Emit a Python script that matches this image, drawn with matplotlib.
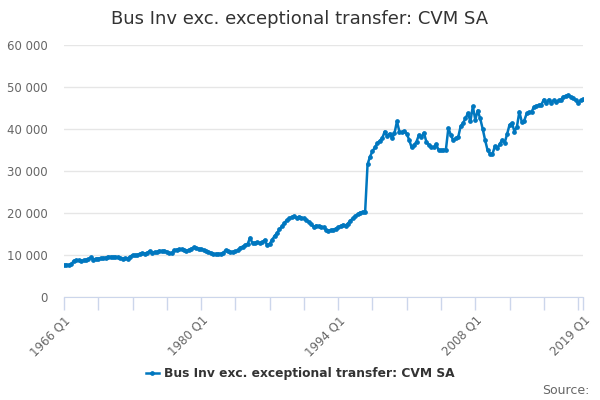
import matplotlib
matplotlib.use('Agg')
import matplotlib.pyplot as plt
import matplotlib.ticker as ticker

# Quarterly values, 1966 Q1 .. 2019 Q1 (one row per year)
values = [
    7600, 7700, 7650, 7800,        # 1966
    8600, 8800, 8700, 8600,        # 1967
    8700, 8900, 9000, 9450,        # 1968
    8900, 9100, 9150, 9200,        # 1969
    9250, 9400, 9600, 9550,        # 1970
    9500, 9550, 9450, 9300,        # 1971
    9150, 9200, 9150, 9600,        # 1972
    10000, 9900, 10050, 10300,     # 1973
    10400, 10350, 10500, 10950,    # 1974
    10400, 10700, 10650, 11000,    # 1975
    10900, 11000, 10800, 10400,    # 1976
    10500, 11100, 11300, 11350,    # 1977
    11400, 11300, 11000, 11200,    # 1978
    11500, 11800, 11700, 11500,    # 1979
    11400, 11200, 11000, 10800,    # 1980
    10500, 10250, 10250, 10300,    # 1981
    10300, 10500, 11100, 10900,    # 1982
    10700, 10800, 10850, 11100,    # 1983
    11750, 12000, 12400, 12600,    # 1984
    14100, 12800, 12900, 13000,    # 1985
    12800, 13000, 13600, 12300,    # 1986
    12600, 13600, 14500, 15200,    # 1987
    16100, 16800, 17600, 18300,    # 1988
    18700, 19000, 19300, 18800,    # 1989
    19100, 18900, 18700, 18300,    # 1990
    17900, 17300, 16700, 17000,    # 1991
    16900, 16700, 16600, 16000,    # 1992
    15800, 15900, 16000, 16300,    # 1993
    16600, 16900, 17200, 17000,    # 1994
    17500, 18200, 18700, 19300,    # 1995
    19700, 20100, 20300, 20200,    # 1996
    31600, 33400, 34700, 35600,    # 1997
    36600, 37200, 37800, 39400,    # 1998
    38300, 38900, 37800, 39000,    # 1999
    41800, 39400, 39200, 39500,    # 2000
    38900, 37400, 35600, 36200,    # 2001
    37000, 38600, 38000, 39100,    # 2002
    37000, 36200, 35800, 35600,    # 2003
    36400, 35000, 34900, 35000,    # 2004
    35100, 40200, 38600, 37300,    # 2005
    37800, 38000, 40600, 41400,    # 2006
    42500, 43800, 41800, 45400,    # 2007
    42200, 44400, 42500, 40100,    # 2008
    37400, 35000, 34100, 34000,    # 2009
    35900, 35400, 36400, 37400,    # 2010
    36700, 38800, 41000, 41400,    # 2011
    39400, 40500, 44100, 41700,    # 2012
    42000, 43700, 44000, 44100,    # 2013
    45300, 45500, 45700, 45800,    # 2014
    47000, 46100, 47000, 46300,    # 2015
    46800, 46500, 46800, 47000,    # 2016
    47700, 47900, 48100, 47700,    # 2017
    47300, 46800, 46300, 46800,    # 2018
    47050,                         # 2019
]
quarters = ['%d Q%d' % (1966 + i // 4, i % 4 + 1) for i in range(len(values))]
label_quarters = ['1966 Q1', '1980 Q1', '1994 Q1', '2008 Q1', '2019 Q1']

title = 'Bus Inv exc. exceptional transfer: CVM SA'
line_col = '#0077bf'

fig = plt.figure(figsize=(6, 4), dpi=100)
ax = fig.add_axes([64 / 600, 1 - 297 / 400, 519 / 600, 252 / 400])

x = list(range(len(values)))
ax.plot(x, values, color=line_col, lw=1.8, marker='o', ms=2.4,
        label=title, zorder=3)

ax.set_xlim(0, len(values) - 1)
ax.set_ylim(0, 60000)
ax.yaxis.set_major_locator(ticker.MultipleLocator(10000))
ax.yaxis.set_major_formatter(ticker.FuncFormatter(
    lambda v, p: '{:,.0f}'.format(v).replace(',', ' ')))
ax.grid(axis='y', color='#e6e6e6', lw=1)
ax.set_axisbelow(True)

# small tick every 14 quarters, labels only on a few
tick_pos = list(range(0, len(values), 14)) + [len(values) - 1]
ax.set_xticks(tick_pos)
ax.set_xticklabels([quarters[i] if quarters[i] in label_quarters else ''
                    for i in tick_pos],
                   rotation=45, ha='right', rotation_mode='anchor')
ax.tick_params(axis='x', length=9, width=1, color='#ccd6eb',
               labelsize=8.5, labelcolor='#666666', pad=3)
ax.tick_params(axis='y', length=0, labelsize=8.5, labelcolor='#666666', pad=12)

for s in ['top', 'right', 'left']:
    ax.spines[s].set_visible(False)
ax.spines['bottom'].set_color('#ccd6eb')

fig.text(0.5, 0.953, title, ha='center', va='center',
         fontsize=13, color='#333333')
leg = fig.legend(loc='center', bbox_to_anchor=(0.5, 0.065), frameon=False,
                 handlelength=1.1, handletextpad=0.4,
                 prop={'size': 8.8, 'weight': 'bold'})
for t in leg.get_texts():
    t.set_color('#333333')
fig.text(0.983, 0.025, 'Source:', ha='right', va='center',
         fontsize=9, color='#666666')

fig.savefig('out.png', dpi=100)
